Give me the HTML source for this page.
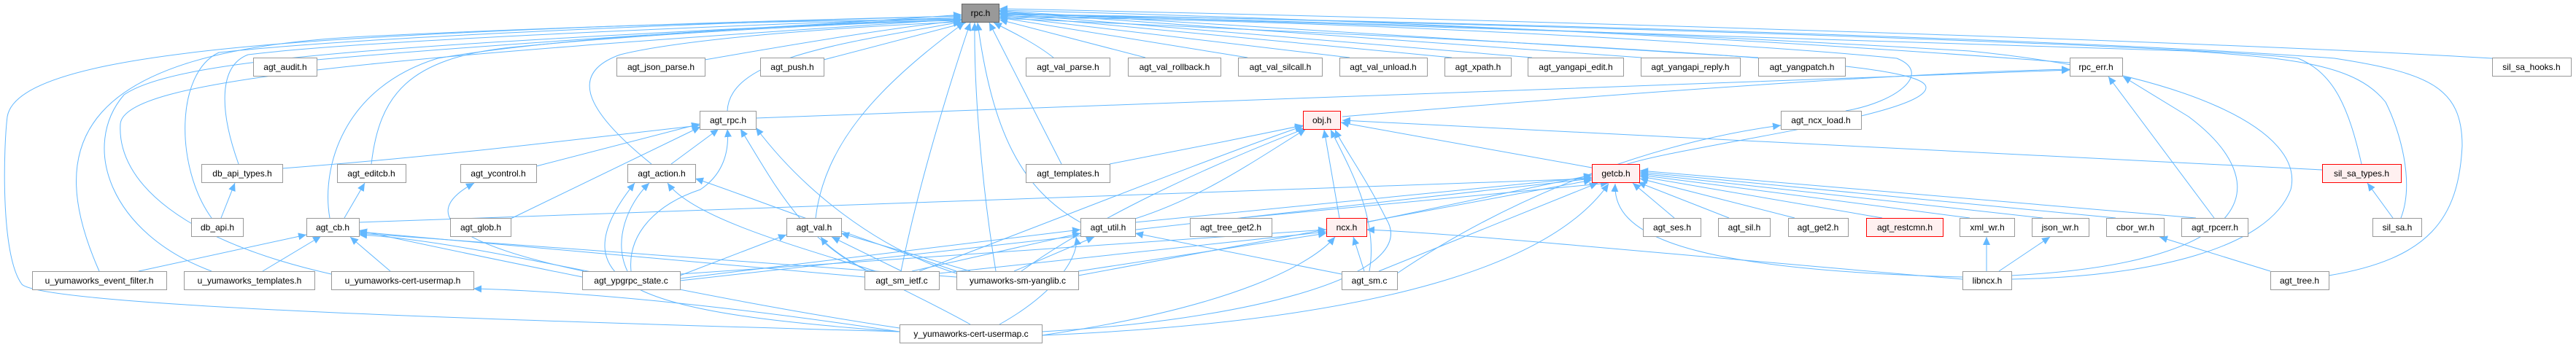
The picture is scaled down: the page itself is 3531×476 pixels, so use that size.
<!DOCTYPE html>
<html><head><meta charset="utf-8"><style>
html,body{margin:0;padding:0;background:#fff}
svg{display:block}
text{font-family:"Liberation Sans",Arial,sans-serif;font-size:12px;fill:#000}
.n rect{fill:#fff;stroke:#999;stroke-width:1}
.r rect{fill:#fff0f0;stroke:#f00;stroke-width:1}
.e path{fill:none;stroke:#63b8ff;stroke-width:1}
</style></head><body>
<svg width="3531" height="476" viewBox="0 0 3531 476" xmlns="http://www.w3.org/2000/svg">
<defs><marker id="a" markerUnits="userSpaceOnUse" markerWidth="12" markerHeight="10" refX="11" refY="5" orient="auto"><path d="M0,0 L11,5 L0,10 z" fill="#63b8ff"/></marker></defs>
<g class="e">
<path marker-end="url(#a)" d="M434,82 C800,50 1200,30 1318,20"/>
<path marker-end="url(#a)" d="M966,82 C1150,50 1250,35 1318,28"/>
<path marker-end="url(#a)" d="M1129,82 C1230,55 1290,40 1324,31"/>
<path marker-end="url(#a)" d="M1444,79 C1420,60 1390,45 1362,31"/>
<path marker-end="url(#a)" d="M1570,79 L1370,27"/>
<path marker-end="url(#a)" d="M1710,79 L1370,24"/>
<path marker-end="url(#a)" d="M1850,79 L1370,22"/>
<path marker-end="url(#a)" d="M1990,79 L1370,20"/>
<path marker-end="url(#a)" d="M2100,79 L1370,18"/>
<path marker-end="url(#a)" d="M2250,79 L1370,16"/>
<path marker-end="url(#a)" d="M2410,79 L1370,15"/>
<path marker-end="url(#a)" d="M2837,86 C2500,60 2000,30 1370,14"/>
<path marker-end="url(#a)" d="M3416,80 C3000,55 2000,25 1370,12"/>
<path marker-end="url(#a)" d="M997,152 C1000,80 1150,60 1318,30"/>
<path marker-end="url(#a)" d="M327,225 C300,150 300,90 340,75 C500,55 1000,35 1318,24"/>
<path marker-end="url(#a)" d="M509,225 C520,130 560,80 700,65 C900,45 1200,30 1318,28"/>
<path marker-end="url(#a)" d="M893,225 C800,150 780,100 850,75 C950,50 1200,35 1318,30"/>
<path marker-end="url(#a)" d="M1455,225 L1356,31"/>
<path marker-end="url(#a)" d="M452,299 C440,230 470,120 600,80 C800,45 1200,30 1318,27"/>
<path marker-end="url(#a)" d="M290,299 C240,230 240,100 300,72 C500,50 1000,30 1318,22"/>
<path marker-end="url(#a)" d="M1118,299 C1130,200 1200,120 1322,31"/>
<path marker-end="url(#a)" d="M1481,305 C1400,260 1360,180 1340,31"/>
<path marker-end="url(#a)" d="M136,372 C60,200 100,70 500,50 S1200,28 1318,26"/>
<path marker-end="url(#a)" d="M290,372 C150,320 110,200 170,130 C250,75 600,60 1318,24"/>
<path marker-end="url(#a)" d="M454,376 C250,330 160,250 165,170 C170,110 500,80 1318,26"/>
<path marker-end="url(#a)" d="M1235,372 C1260,250 1300,120 1330,31"/>
<path marker-end="url(#a)" d="M1365,372 C1345,250 1335,120 1336,31"/>
<path marker-end="url(#a)" d="M1233,455 C700,440 60,420 30,390 C0,350 5,200 10,160 C20,100 200,70 500,52 S1200,25 1318,22"/>
<path marker-end="url(#a)" d="M2757,383 C2950,380 3110,340 3140,260 C3160,180 3000,100 2700,70 C2200,40 1700,25 1370,22"/>
<path marker-end="url(#a)" d="M3192,378 C3330,355 3370,300 3375,200 C3375,120 3330,100 3200,80 C2800,50 1800,25 1370,20"/>
<path marker-end="url(#a)" d="M3291,299 C3310,250 3290,180 3270,140 C3230,90 3150,80 3000,70 L1370,18"/>
<path marker-end="url(#a)" d="M3237,225 C3220,150 3200,100 3150,80 C3000,60 1800,25 1370,19"/>
<path marker-end="url(#a)" d="M2530,152 C2600,140 2650,100 2600,80 C2400,60 1800,25 1370,24"/>
<path marker-end="url(#a)" d="M2225,227 C2300,200 2640,160 2640,120 C2640,90 2400,70 1370,25"/>
<path marker-end="url(#a)" d="M303,299 L322,251"/>
<path marker-end="url(#a)" d="M472,299 L500,251"/>
<path marker-end="url(#a)" d="M190,372 L420,322"/>
<path marker-end="url(#a)" d="M360,372 L440,324"/>
<path marker-end="url(#a)" d="M535,372 L480,325"/>
<path marker-end="url(#a)" d="M798,380 C700,360 600,340 492,316"/>
<path marker-end="url(#a)" d="M1185,380 L492,318"/>
<path marker-end="url(#a)" d="M1311,380 L492,320"/>
<path marker-end="url(#a)" d="M1233,450 C900,400 650,330 492,322"/>
<path marker-end="url(#a)" d="M1233,455 C1000,420 800,400 649,396"/>
<path marker-end="url(#a)" d="M735,228 L959,170"/>
<path marker-end="url(#a)" d="M700,300 L960,174"/>
<path marker-end="url(#a)" d="M920,225 L985,177"/>
<path marker-end="url(#a)" d="M865,372 C860,320 900,280 960,260 C990,240 1000,210 997,177"/>
<path marker-end="url(#a)" d="M1190,372 C1100,330 1060,250 1015,177"/>
<path marker-end="url(#a)" d="M1311,375 C1200,340 1100,260 1036,175"/>
<path marker-end="url(#a)" d="M387,231 C600,215 800,190 959,172"/>
<path marker-end="url(#a)" d="M860,372 C840,330 860,280 890,251"/>
<path marker-end="url(#a)" d="M1200,372 C1100,340 950,300 915,251"/>
<path marker-end="url(#a)" d="M1311,372 C1100,300 1000,260 953,245"/>
<path marker-end="url(#a)" d="M1233,455 C900,430 750,400 870,251"/>
<path marker-end="url(#a)" d="M800,372 C650,340 560,300 650,251"/>
<path marker-end="url(#a)" d="M932,378 L1078,322"/>
<path marker-end="url(#a)" d="M1236,372 L1140,325"/>
<path marker-end="url(#a)" d="M1330,372 L1153,320"/>
<path marker-end="url(#a)" d="M1330,445 C1250,400 1150,360 1125,325"/>
<path marker-end="url(#a)" d="M1250,372 L1481,320"/>
<path marker-end="url(#a)" d="M1390,372 L1500,325"/>
<path marker-end="url(#a)" d="M1370,445 C1450,400 1480,350 1475,325"/>
<path marker-end="url(#a)" d="M932,382 L1481,315"/>
<path marker-end="url(#a)" d="M1839,376 L1556,320"/>
<path marker-end="url(#a)" d="M1521,225 C1600,210 1700,190 1786,172"/>
<path marker-end="url(#a)" d="M1556,300 C1650,270 1720,220 1790,177"/>
<path marker-end="url(#a)" d="M1836,299 L1815,178"/>
<path marker-end="url(#a)" d="M1877,372 C1890,300 1850,230 1824,178"/>
<path marker-end="url(#a)" d="M1428,455 C1700,440 1950,380 1900,300 C1870,240 1840,200 1830,178"/>
<path marker-end="url(#a)" d="M1400,372 C1500,300 1650,230 1790,176"/>
<path marker-end="url(#a)" d="M1260,372 C1400,320 1650,220 1786,173"/>
<path marker-end="url(#a)" d="M1873,305 L2182,240"/>
<path marker-end="url(#a)" d="M1556,305 L2182,243"/>
<path marker-end="url(#a)" d="M1700,299 L2205,251"/>
<path marker-end="url(#a)" d="M1890,372 L2190,251"/>
<path marker-end="url(#a)" d="M2182,230 L1838,168"/>
<path marker-end="url(#a)" d="M2295,299 L2238,251"/>
<path marker-end="url(#a)" d="M2370,299 L2245,250"/>
<path marker-end="url(#a)" d="M2460,299 L2248,245"/>
<path marker-end="url(#a)" d="M2580,299 L2248,242"/>
<path marker-end="url(#a)" d="M2700,299 L2248,240"/>
<path marker-end="url(#a)" d="M2800,299 L2248,238"/>
<path marker-end="url(#a)" d="M2900,299 L2248,236"/>
<path marker-end="url(#a)" d="M3010,299 L2248,234"/>
<path marker-end="url(#a)" d="M1428,460 C1900,440 2130,360 2205,252"/>
<path marker-end="url(#a)" d="M932,385 L2182,245"/>
<path marker-end="url(#a)" d="M2690,380 C2300,370 2210,320 2214,252"/>
<path marker-end="url(#a)" d="M492,305 L2182,245"/>
<path marker-end="url(#a)" d="M1478,378 L2182,247"/>
<path marker-end="url(#a)" d="M932,376 L1818,315"/>
<path marker-end="url(#a)" d="M1287,375 L1818,318"/>
<path marker-end="url(#a)" d="M1478,372 L1818,320"/>
<path marker-end="url(#a)" d="M1870,372 L1855,325"/>
<path marker-end="url(#a)" d="M1428,460 C1700,420 1800,360 1830,325"/>
<path marker-end="url(#a)" d="M2690,383 C2300,350 2000,320 1873,315"/>
<path marker-end="url(#a)" d="M2723,372 L2723,325"/>
<path marker-end="url(#a)" d="M2740,372 L2810,325"/>
<path marker-end="url(#a)" d="M3112,372 L2960,325"/>
<path marker-end="url(#a)" d="M3035,299 L2890,105"/>
<path marker-end="url(#a)" d="M2757,378 C3100,360 3120,250 3000,160 L2910,105"/>
<path marker-end="url(#a)" d="M1840,160 C2200,130 2600,100 2837,95"/>
<path marker-end="url(#a)" d="M1915,375 C2100,250 2300,190 2441,172"/>
<path marker-end="url(#a)" d="M3280,299 L3245,251"/>
<path marker-end="url(#a)" d="M3183,233 L1840,165"/>
<path marker-end="url(#a)" d="M1036,162 C1500,140 2300,120 2837,96"/>
</g>
<g class="n"><rect x="1318.5" y="5.5" width="51" height="25" style="fill:#999;stroke:#666"/><text x="1344" y="22" text-anchor="middle">rpc.h</text></g>
<g class="n"><rect x="347.5" y="79.5" width="87" height="25"/><text x="391" y="96" text-anchor="middle">agt_audit.h</text></g>
<g class="n"><rect x="845.5" y="79.5" width="121" height="25"/><text x="906" y="96" text-anchor="middle">agt_json_parse.h</text></g>
<g class="n"><rect x="1042.5" y="79.5" width="87" height="25"/><text x="1086" y="96" text-anchor="middle">agt_push.h</text></g>
<g class="n"><rect x="1406.5" y="79.5" width="115" height="25"/><text x="1464" y="96" text-anchor="middle">agt_val_parse.h</text></g>
<g class="n"><rect x="1546.5" y="79.5" width="127" height="25"/><text x="1610" y="96" text-anchor="middle">agt_val_rollback.h</text></g>
<g class="n"><rect x="1697.5" y="79.5" width="115" height="25"/><text x="1755" y="96" text-anchor="middle">agt_val_silcall.h</text></g>
<g class="n"><rect x="1836.5" y="79.5" width="120" height="25"/><text x="1896" y="96" text-anchor="middle">agt_val_unload.h</text></g>
<g class="n"><rect x="1980.5" y="79.5" width="91" height="25"/><text x="2026" y="96" text-anchor="middle">agt_xpath.h</text></g>
<g class="n"><rect x="2094.5" y="79.5" width="131" height="25"/><text x="2160" y="96" text-anchor="middle">agt_yangapi_edit.h</text></g>
<g class="n"><rect x="2249.5" y="79.5" width="136" height="25"/><text x="2317" y="96" text-anchor="middle">agt_yangapi_reply.h</text></g>
<g class="n"><rect x="2410.5" y="79.5" width="119" height="25"/><text x="2470" y="96" text-anchor="middle">agt_yangpatch.h</text></g>
<g class="n"><rect x="2837.5" y="79.5" width="72" height="25"/><text x="2873" y="96" text-anchor="middle">rpc_err.h</text></g>
<g class="n"><rect x="3416.5" y="79.5" width="108" height="25"/><text x="3470" y="96" text-anchor="middle">sil_sa_hooks.h</text></g>
<g class="n"><rect x="959.5" y="152.5" width="77" height="25"/><text x="998" y="169" text-anchor="middle">agt_rpc.h</text></g>
<g class="r"><rect x="1786.5" y="152.5" width="51" height="25"/><text x="1812" y="169" text-anchor="middle">obj.h</text></g>
<g class="n"><rect x="2441.5" y="152.5" width="110" height="25"/><text x="2496" y="169" text-anchor="middle">agt_ncx_load.h</text></g>
<g class="n"><rect x="276.5" y="225.5" width="111" height="25"/><text x="332" y="242" text-anchor="middle">db_api_types.h</text></g>
<g class="n"><rect x="462.5" y="225.5" width="94" height="25"/><text x="509" y="242" text-anchor="middle">agt_editcb.h</text></g>
<g class="n"><rect x="631.5" y="225.5" width="104" height="25"/><text x="683" y="242" text-anchor="middle">agt_ycontrol.h</text></g>
<g class="n"><rect x="860.5" y="225.5" width="93" height="25"/><text x="907" y="242" text-anchor="middle">agt_action.h</text></g>
<g class="n"><rect x="1406.5" y="225.5" width="115" height="25"/><text x="1464" y="242" text-anchor="middle">agt_templates.h</text></g>
<g class="r"><rect x="2182.5" y="225.5" width="65" height="25"/><text x="2215" y="242" text-anchor="middle">getcb.h</text></g>
<g class="r"><rect x="3183.5" y="225.5" width="108" height="25"/><text x="3237" y="242" text-anchor="middle">sil_sa_types.h</text></g>
<g class="n"><rect x="262.5" y="299.5" width="71" height="25"/><text x="298" y="316" text-anchor="middle">db_api.h</text></g>
<g class="n"><rect x="420.5" y="299.5" width="72" height="25"/><text x="456" y="316" text-anchor="middle">agt_cb.h</text></g>
<g class="n"><rect x="617.5" y="299.5" width="83" height="25"/><text x="659" y="316" text-anchor="middle">agt_glob.h</text></g>
<g class="n"><rect x="1078.5" y="299.5" width="75" height="25"/><text x="1116" y="316" text-anchor="middle">agt_val.h</text></g>
<g class="n"><rect x="1481.5" y="299.5" width="75" height="25"/><text x="1519" y="316" text-anchor="middle">agt_util.h</text></g>
<g class="n"><rect x="1631.5" y="299.5" width="112" height="25"/><text x="1687" y="316" text-anchor="middle">agt_tree_get2.h</text></g>
<g class="r"><rect x="1818.5" y="299.5" width="55" height="25"/><text x="1846" y="316" text-anchor="middle">ncx.h</text></g>
<g class="n"><rect x="2252.5" y="299.5" width="79" height="25"/><text x="2292" y="316" text-anchor="middle">agt_ses.h</text></g>
<g class="n"><rect x="2355.5" y="299.5" width="71" height="25"/><text x="2391" y="316" text-anchor="middle">agt_sil.h</text></g>
<g class="n"><rect x="2451.5" y="299.5" width="82" height="25"/><text x="2492" y="316" text-anchor="middle">agt_get2.h</text></g>
<g class="r"><rect x="2558.5" y="299.5" width="105" height="25"/><text x="2611" y="316" text-anchor="middle">agt_restcmn.h</text></g>
<g class="n"><rect x="2686.5" y="299.5" width="75" height="25"/><text x="2724" y="316" text-anchor="middle">xml_wr.h</text></g>
<g class="n"><rect x="2785.5" y="299.5" width="78" height="25"/><text x="2824" y="316" text-anchor="middle">json_wr.h</text></g>
<g class="n"><rect x="2887.5" y="299.5" width="79" height="25"/><text x="2927" y="316" text-anchor="middle">cbor_wr.h</text></g>
<g class="n"><rect x="2990.5" y="299.5" width="91" height="25"/><text x="3036" y="316" text-anchor="middle">agt_rpcerr.h</text></g>
<g class="n"><rect x="3252.5" y="299.5" width="67" height="25"/><text x="3286" y="316" text-anchor="middle">sil_sa.h</text></g>
<g class="n"><rect x="44.5" y="372.5" width="184" height="25"/><text x="136" y="389" text-anchor="middle">u_yumaworks_event_filter.h</text></g>
<g class="n"><rect x="252.5" y="372.5" width="179" height="25"/><text x="342" y="389" text-anchor="middle">u_yumaworks_templates.h</text></g>
<g class="n"><rect x="454.5" y="372.5" width="195" height="25"/><text x="552" y="389" text-anchor="middle">u_yumaworks-cert-usermap.h</text></g>
<g class="n"><rect x="798.5" y="372.5" width="134" height="25"/><text x="865" y="389" text-anchor="middle">agt_ypgrpc_state.c</text></g>
<g class="n"><rect x="1185.5" y="372.5" width="102" height="25"/><text x="1236" y="389" text-anchor="middle">agt_sm_ietf.c</text></g>
<g class="n"><rect x="1311.5" y="372.5" width="167" height="25"/><text x="1395" y="389" text-anchor="middle">yumaworks-sm-yanglib.c</text></g>
<g class="n"><rect x="1839.5" y="372.5" width="76" height="25"/><text x="1877" y="389" text-anchor="middle">agt_sm.c</text></g>
<g class="n"><rect x="2690.5" y="372.5" width="67" height="25"/><text x="2724" y="389" text-anchor="middle">libncx.h</text></g>
<g class="n"><rect x="3112.5" y="372.5" width="80" height="25"/><text x="3152" y="389" text-anchor="middle">agt_tree.h</text></g>
<g class="n"><rect x="1233.5" y="445.5" width="195" height="25"/><text x="1331" y="462" text-anchor="middle">y_yumaworks-cert-usermap.c</text></g>
</svg>
</body></html>
